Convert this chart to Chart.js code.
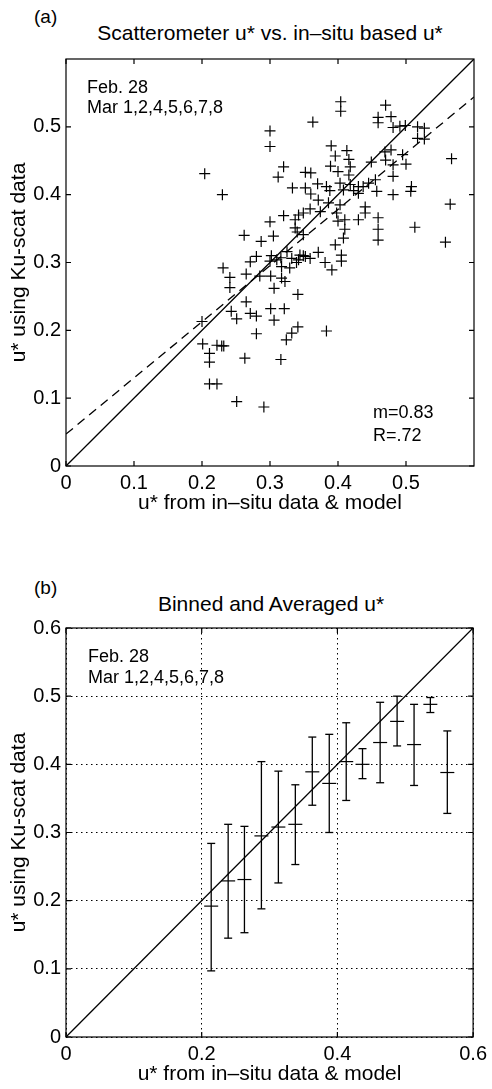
<!DOCTYPE html>
<html>
<head>
<meta charset="utf-8">
<script src="https://cdn.jsdelivr.net/npm/chart.js@4.4.0/dist/chart.umd.min.js"></script>
<style>
  body { margin: 0; background: #fff; width: 492px; height: 1089px; position: relative; overflow: hidden;
         font-family: "Liberation Sans", Arial, Helvetica, sans-serif; color: #000; }
  .lbl { position: absolute; white-space: nowrap; line-height: 1; }
  canvas { position: absolute; left: 0; }
</style>
</head>
<body>
<div class="lbl" style="left:34px;top:7px;font-size:19px">(a)</div>
<div class="lbl" style="left:0;width:540px;text-align:center;top:22px;font-size:21px">Scatterometer u* vs. in&#8211;situ based u*</div>
<canvas id="chartA" width="492" height="545" style="top:0"></canvas>
<div class="lbl" style="left:34px;top:578px;font-size:19px">(b)</div>
<div class="lbl" style="left:0;width:542px;text-align:center;top:593px;font-size:21px">Binned and Averaged u*</div>
<canvas id="chartB" width="492" height="544" style="top:545px"></canvas>
<script>
// (a) scatter: u* from in-situ data & model vs u* from Ku-scat
const scatX = [0.204, 0.230, 0.300, 0.300, 0.363, 0.320, 0.312, 0.352, 0.360, 0.333,
  0.352, 0.370, 0.360, 0.371, 0.359, 0.374, 0.300, 0.320, 0.342, 0.349,
  0.337, 0.349, 0.262, 0.287, 0.305, 0.337, 0.340, 0.404, 0.404, 0.470,
  0.459, 0.459, 0.478, 0.481, 0.491, 0.499, 0.517, 0.527, 0.517, 0.527,
  0.390, 0.396, 0.413, 0.416, 0.389, 0.400, 0.418, 0.416, 0.469, 0.478,
  0.495, 0.470, 0.481, 0.500, 0.449, 0.567, 0.481, 0.455, 0.445, 0.403,
  0.418, 0.430, 0.437, 0.383, 0.388, 0.408, 0.423, 0.430, 0.457, 0.481,
  0.508, 0.507, 0.386, 0.403, 0.440, 0.440, 0.398, 0.400, 0.410, 0.430,
  0.459, 0.410, 0.459, 0.513, 0.565, 0.408, 0.396, 0.459, 0.558, 0.371,
  0.359, 0.349, 0.342, 0.381, 0.405, 0.405, 0.391, 0.383, 0.280, 0.302,
  0.271, 0.300, 0.310, 0.316, 0.325, 0.332, 0.344, 0.352, 0.339, 0.329,
  0.317, 0.231, 0.241, 0.265, 0.285, 0.301, 0.317, 0.322, 0.241, 0.306,
  0.341, 0.265, 0.243, 0.251, 0.271, 0.280, 0.301, 0.321, 0.306, 0.200,
  0.280, 0.341, 0.332, 0.324, 0.201, 0.222, 0.229, 0.232, 0.211, 0.211,
  0.263, 0.316, 0.211, 0.222, 0.251, 0.291];
const scatY = [0.431, 0.400, 0.494, 0.471, 0.507, 0.441, 0.426, 0.433, 0.432, 0.410,
  0.410, 0.416, 0.401, 0.392, 0.379, 0.375, 0.360, 0.369, 0.370, 0.373,
  0.351, 0.341, 0.340, 0.331, 0.339, 0.363, 0.345, 0.537, 0.523, 0.532,
  0.514, 0.506, 0.515, 0.499, 0.501, 0.502, 0.500, 0.498, 0.483, 0.482,
  0.472, 0.457, 0.465, 0.452, 0.442, 0.434, 0.441, 0.429, 0.463, 0.466,
  0.459, 0.451, 0.444, 0.445, 0.448, 0.453, 0.427, 0.422, 0.417, 0.417,
  0.415, 0.412, 0.412, 0.412, 0.406, 0.407, 0.406, 0.402, 0.405, 0.400,
  0.412, 0.405, 0.388, 0.385, 0.382, 0.373, 0.373, 0.361, 0.363, 0.363,
  0.366, 0.349, 0.349, 0.352, 0.386, 0.336, 0.326, 0.333, 0.330, 0.315,
  0.306, 0.310, 0.304, 0.300, 0.311, 0.302, 0.289, 0.199, 0.309, 0.310,
  0.301, 0.302, 0.304, 0.307, 0.316, 0.306, 0.311, 0.309, 0.300, 0.292,
  0.294, 0.292, 0.278, 0.283, 0.280, 0.280, 0.277, 0.272, 0.263, 0.262,
  0.253, 0.242, 0.228, 0.217, 0.225, 0.221, 0.232, 0.232, 0.215, 0.213,
  0.195, 0.205, 0.196, 0.186, 0.180, 0.178, 0.177, 0.177, 0.166, 0.153,
  0.159, 0.157, 0.121, 0.121, 0.095, 0.087];
const oneToOneX = [0, 0.6];
const oneToOneY = [0, 0.6];
const fitX = [0, 0.6];
const fitY = [0.047, 0.544];

// (b) binned and averaged
const binX    = [0.214, 0.239, 0.263, 0.288, 0.313, 0.338, 0.363, 0.388, 0.413, 0.437, 0.463, 0.488, 0.513, 0.537, 0.562];
const binMean = [0.192, 0.229, 0.231, 0.295, 0.308, 0.312, 0.389, 0.372, 0.404, 0.400, 0.432, 0.463, 0.429, 0.488, 0.388];
const binHigh = [0.284, 0.312, 0.309, 0.404, 0.390, 0.370, 0.440, 0.444, 0.461, 0.423, 0.491, 0.500, 0.488, 0.498, 0.449];
const binLow  = [0.097, 0.145, 0.153, 0.188, 0.226, 0.253, 0.340, 0.300, 0.347, 0.379, 0.373, 0.427, 0.369, 0.476, 0.328];

const ticksA = [0, 0.1, 0.2, 0.3, 0.4, 0.5];
const ticksBx = [0, 0.2, 0.4, 0.6];
const ticksBy = [0, 0.1, 0.2, 0.3, 0.4, 0.5, 0.6];

const FONT = '"Liberation Sans", Arial, Helvetica, sans-serif';
const xyPairs = (xs, ys) => xs.map((x, i) => ({x: x, y: ys[i]}));
const fmt = v => String(Number(v.toFixed(2)));

function makeFrame(notes, tickLen) {
  return {
    id: 'frame',
    afterDraw(chart) {
      const {ctx, chartArea: a} = chart;
      const sx = chart.scales.x, sy = chart.scales.y;
      ctx.save();
      ctx.strokeStyle = '#000';
      ctx.lineWidth = 1.2;
      ctx.strokeRect(a.left, a.top, a.right - a.left, a.bottom - a.top);
      ctx.beginPath();
      sx.ticks.forEach(t => {
        const p = sx.getPixelForValue(t.value);
        ctx.moveTo(p, a.bottom); ctx.lineTo(p, a.bottom - tickLen);
        ctx.moveTo(p, a.top); ctx.lineTo(p, a.top + tickLen);
      });
      sy.ticks.forEach(t => {
        const p = sy.getPixelForValue(t.value);
        ctx.moveTo(a.left, p); ctx.lineTo(a.left + tickLen, p);
        ctx.moveTo(a.right, p); ctx.lineTo(a.right - tickLen, p);
      });
      ctx.stroke();
      ctx.fillStyle = '#000';
      ctx.font = '18px ' + FONT;
      ctx.textBaseline = 'alphabetic';
      notes.forEach(n => ctx.fillText(n[0], a.left + n[1], a.top + n[2]));
      ctx.restore();
    }
  };
}

function axis(opts) {
  return {
    type: 'linear', min: 0, max: 0.6,
    afterFit: opts.fit,
    grid: opts.grid || {display: false, drawTicks: false},
    border: {display: false, dash: [1.5, 3.5]},
    afterBuildTicks: s => { s.ticks = opts.ticks.map(v => ({value: v})); },
    ticks: {
      padding: opts.pad, color: '#000',
      font: {size: 20, family: FONT},
      callback: v => fmt(v)
    },
    title: {
      display: true, text: opts.title, color: '#000',
      font: {size: 21, family: FONT, lineHeight: 1},
      padding: opts.titlePad
    }
  };
}

const dotted = {display: true, drawTicks: false, color: '#000', lineWidth: 1};

new Chart(document.getElementById('chartA'), {
  type: 'scatter',
  data: {
    datasets: [
      {data: xyPairs(scatX, scatY), pointStyle: 'cross', pointRadius: 5.5,
       borderColor: '#000', borderWidth: 1.2, backgroundColor: 'transparent'},
      {data: xyPairs(oneToOneX, oneToOneY), showLine: true, pointRadius: 0,
       borderColor: '#000', borderWidth: 1.3},
      {data: xyPairs(fitX, fitY), showLine: true, pointRadius: 0,
       borderColor: '#000', borderWidth: 1.3, borderDash: [9, 6]}
    ]
  },
  options: {
    responsive: false, animation: false, devicePixelRatio: 1,
    layout: {padding: {left: 0, right: 18, top: 59, bottom: 0}},
    plugins: {legend: {display: false}, tooltip: {enabled: false}},
    scales: {
      x: axis({fit: s => { s.height = 79; }, ticks: ticksA, pad: 5,
               title: 'u* from in\u2013situ data & model', titlePad: {top: 0, bottom: 31}}),
      y: axis({fit: s => { s.width = 66; }, ticks: ticksA, pad: 5,
               title: 'u* using Ku-scat data', titlePad: {top: 9, bottom: 0}})
    }
  },
  plugins: [makeFrame([['Feb. 28', 21, 34], ['Mar 1,2,4,5,6,7,8', 21, 54],
                       ['m=0.83', 307, 359], ['R=.72', 307, 382]], 5)]
});

const barPts = [];
binX.forEach((x, i) => { barPts.push({x: x, y: binLow[i]}, {x: x, y: binHigh[i]}, {x: x, y: null}); });

new Chart(document.getElementById('chartB'), {
  type: 'scatter',
  data: {
    datasets: [
      {data: barPts, showLine: true, spanGaps: false, pointStyle: 'line', pointRadius: 4,
       borderColor: '#000', borderWidth: 1.3, pointBorderWidth: 1.3},
      {data: xyPairs(binX, binMean), pointStyle: 'line', pointRadius: 7,
       borderColor: '#000', pointBorderWidth: 1.2},
      {data: xyPairs(oneToOneX, oneToOneY), showLine: true, pointRadius: 0,
       borderColor: '#000', borderWidth: 1.3}
    ]
  },
  options: {
    responsive: false, animation: false, devicePixelRatio: 1,
    layout: {padding: {left: 0, right: 16, top: 83, bottom: 0}},
    plugins: {legend: {display: false}, tooltip: {enabled: false}},
    scales: {
      x: axis({fit: s => { s.height = 52; }, ticks: ticksBx, pad: 5, grid: dotted,
               title: 'u* from in\u2013situ data & model', titlePad: {top: 0, bottom: 4}}),
      y: axis({fit: s => { s.width = 66; }, ticks: ticksBy, pad: 5, grid: dotted,
               title: 'u* using Ku-scat data', titlePad: {top: 9, bottom: 0}})
    }
  },
  plugins: [makeFrame([['Feb. 28', 22, 34], ['Mar 1,2,4,5,6,7,8', 22, 55]], 5)]
});
</script>
</body>
